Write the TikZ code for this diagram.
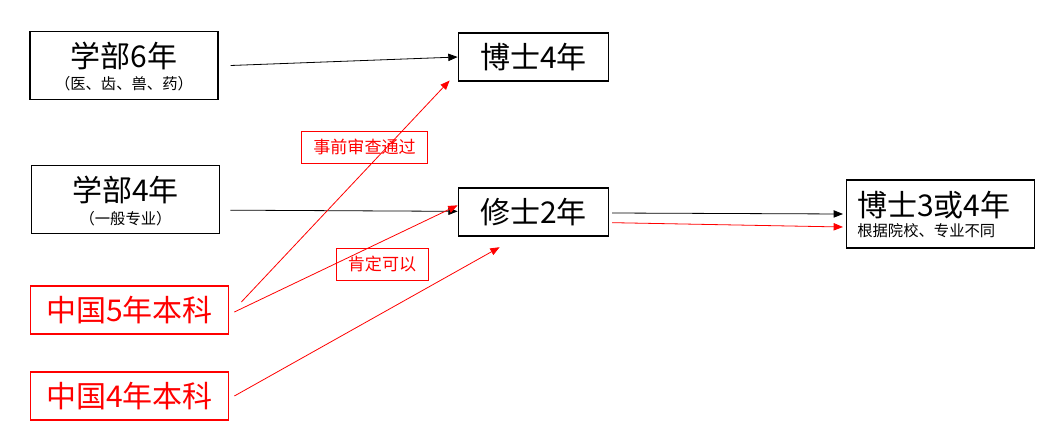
\documentclass[tikz,border=0pt]{standalone}
\usepackage{fontspec}
\setmainfont{Noto Sans CJK SC}
\usetikzlibrary{arrows.meta}

\begin{document}
\begin{tikzpicture}[x=0.75pt,y=-0.75pt]
                \tikzstyle{box}=[draw, line width=0.8pt, inner sep=0pt]
                \tikzstyle{redbox}=[box, draw=red, text=red]
                \tikzstyle{big}=[inner sep=0pt, font=\fontsize{22.5}{24}\selectfont]
                \tikzstyle{small}=[inner sep=0pt, font=\fontsize{11.5}{13}\selectfont]
                \tikzstyle{tag}=[draw=red, line width=0.6pt, text=red, inner sep=0pt, minimum height=24pt, font=\fontsize{12.8}{14}\selectfont]
                \tikzstyle{arr}=[line width=0.6pt, -{Triangle[length=7pt,width=5.5pt]}]
                \tikzstyle{redarr}=[arr, red]

                \useasboundingbox (0,0) rectangle (1046,432);

                % boxes on the left
                \node[box, minimum width=141pt, minimum height=50.5pt] (xb6) at (124,65.5) {};
                \node[big]   (xb6t) at (124,56) {学部6年};
                \node[small] (xb6s) at (124,84) {（医、齿、兽、药）};

                \node[box, minimum width=141.5pt, minimum height=51.5pt] (xb4) at (125.5,199.5) {};
                \node[big]   (xb4t) at (125.5,190) {学部4年};
                \node[small] (xb4s) at (125.5,218.5) {（一般专业）};

                \node[redbox, big, minimum width=149pt, minimum height=36pt] (c5) at (129.5,310) {中国5年本科};
                \node[redbox, big, minimum width=149pt, minimum height=36pt] (c4) at (129.5,396) {中国4年本科};

                % boxes in the middle and on the right
                \node[box, big, minimum width=113pt, minimum height=36pt] (bs4) at (533.5,57) {博士4年};
                \node[box, big, minimum width=113pt, minimum height=36pt] (ms2) at (533.5,212) {修士2年};

                \node[box, minimum width=141.5pt, minimum height=51pt] (bs34) at (940.5,214) {};
                \node[big, anchor=west]   (bs34t) at (857,205) {博士3或4年};
                \node[small, anchor=west] (bs34s) at (857,231) {根据院校、专业不同};

                % tags
                \node[tag, minimum width=95pt] (t1) at (364.5,147) {事前审查通过};
                \node[tag, minimum width=69pt] (t2) at (382,264) {肯定可以};

                % arrows
                \draw[arr] ([xshift=9pt]xb6.east) -- (bs4.west);
                \draw[arr] ([xshift=7.5pt,yshift=-8pt]xb4.east) -- ([yshift=0.5pt]ms2.west);
                \draw[redarr] ([xshift=9pt,yshift=6pt]c5.east) -- ([xshift=-6pt,yshift=0.75pt]bs4.south west);
                \draw[redarr] ([xshift=3.75pt,yshift=-1.5pt]c5.east) -- ([yshift=5pt]ms2.west);
                \draw[redarr] ([xshift=3.75pt]c4.east) -- ([xshift=31.5pt,yshift=-8pt]ms2.south west);
                \draw[arr] ([xshift=2pt,yshift=-0.75pt]ms2.east) -- ([xshift=-2pt]bs34.west);
                \draw[redarr] ([xshift=2pt,yshift=-8pt]ms2.east) -- ([xshift=-2pt,yshift=-9.75pt]bs34.west);
            \end{tikzpicture}
\end{document}
